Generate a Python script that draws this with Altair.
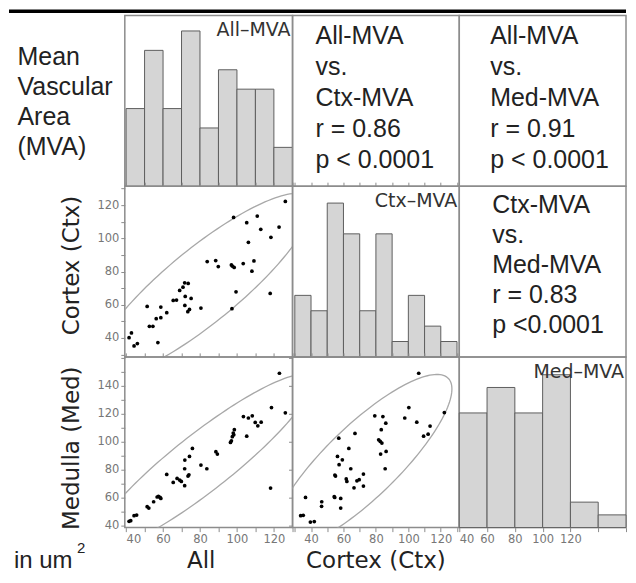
import altair as alt
import numpy as np
import pandas as pd

# ---------------- data ----------------
# histogram bin edges and counts
all_edges = [40, 50, 60, 70, 80, 90, 100, 110, 120, 130]
all_counts = [4, 7, 4, 8, 3, 6, 5, 5, 2]
ctx_edges = [30, 40, 50, 60, 70, 80, 90, 100, 110, 120, 130]
ctx_counts = [4, 3, 10, 8, 3, 8, 1, 4, 2, 1]
med_edges = [40, 60, 80, 100, 120, 140, 160]
med_counts = [9, 11, 9, 12, 2, 1]

# scatter: All (x) vs Cortex (y)
ac_all = [126.2, 98.2, 111.0, 105.3, 112.9, 122.8, 118.4, 106.2, 83.9, 88.5, 89.9, 97.0, 98.5,
          97.5, 103.4, 109.2, 108.1, 99.5, 118.0, 97.3, 80.5, 71.7, 73.6, 70.8, 69.0, 65.5,
          67.3, 72.0, 75.2, 71.8, 74.3, 73.4, 51.4, 58.8, 62.0, 56.3, 58.8, 52.6, 54.5, 42.9,
          41.6, 44.3, 46.1, 57.2]
ac_ctx = [122.2, 112.6, 113.4, 109.4, 105.4, 106.8, 100.6, 97.6, 86.0, 86.6, 83.0, 84.0, 82.5,
          83.3, 84.8, 86.4, 80.2, 67.8, 66.8, 57.6, 58.0, 73.2, 72.8, 70.6, 68.6, 62.6,
          62.8, 65.0, 63.8, 59.6, 57.2, 55.8, 59.0, 58.6, 55.2, 51.6, 52.2, 47.0, 47.0, 43.0,
          40.2, 35.2, 36.6, 37.2]

# scatter: All (x) vs Medulla (y)
am_all = [123.0, 118.7, 126.2, 103.5, 106.2, 108.3, 109.9, 111.3, 113.1, 105.3, 98.6, 98.0,
          97.5, 97.0, 96.5, 98.3, 88.6, 89.4, 75.9, 74.3, 71.8, 80.5, 83.7, 71.7, 74.0, 73.5,
          62.0, 67.6, 69.0, 69.9, 65.5, 71.7, 57.5, 58.4, 58.8, 56.8, 54.9, 51.4, 52.3, 44.3,
          45.7, 41.6, 42.5, 118.2]
am_med = [149.0, 124.5, 120.7, 118.0, 117.0, 118.6, 113.8, 111.4, 114.0, 104.0, 108.6, 106.2,
          103.6, 100.7, 99.5, 105.0, 92.9, 91.2, 95.2, 89.5, 86.9, 83.3, 80.7, 80.7, 76.4, 75.5,
          76.6, 73.8, 72.6, 71.6, 70.9, 68.6, 61.0, 60.2, 59.5, 60.5, 57.1, 53.6, 52.6, 47.1,
          47.6, 43.1, 43.6, 66.9]

# scatter: Cortex (x) vs Medulla (y)
cm_ctx = [106.4, 100.3, 122.2, 97.8, 105.2, 113.4, 109.4, 112.2, 79.3, 84.3, 86.1, 83.3, 81.7,
          82.7, 83.7, 82.9, 86.3, 85.7, 67.1, 57.1, 63.3, 56.3, 59.3, 57.3, 64.5, 54.7, 55.1,
          72.3, 61.7, 62.1, 68.3, 69.7, 66.5, 72.3, 54.3, 54.6, 58.3, 36.6, 46.6, 46.5, 58.3,
          33.6, 35.2, 39.6, 42.0]
cm_med = [149.0, 124.5, 120.9, 117.0, 114.0, 111.2, 104.0, 105.4, 118.6, 118.0, 113.3, 108.6,
          101.4, 100.2, 99.1, 91.2, 93.1, 80.7, 106.0, 102.6, 95.2, 89.5, 87.1, 83.6, 80.7, 76.2,
          75.5, 76.9, 73.4, 71.6, 72.1, 72.9, 67.1, 68.3, 60.7, 60.2, 59.5, 60.2, 57.1, 53.8,
          52.6, 47.1, 47.4, 42.6, 42.9]

# tick values
all_ticks = [40, 50, 60, 70, 80, 90, 100, 110, 120, 130]
ctx_ticks = [30, 40, 50, 60, 70, 80, 90, 100, 110, 120, 130]
med_ticks_y = [40, 50, 60, 70, 80, 90, 100, 110, 120, 130, 140, 150, 160]
med_ticks_x = [40, 60, 80, 100, 120, 140, 160]

# texts
row_label_lines = ["Mean", "Vascular", "Area", "(MVA)"]
stat_all_ctx = ["All-MVA", "vs.", "Ctx-MVA", "r = 0.86", "p < 0.0001"]
stat_all_med = ["All-MVA", "vs.", "Med-MVA", "r = 0.91", "p < 0.0001"]
stat_ctx_med = ["Ctx-MVA", "vs.", "Med-MVA", "r = 0.83", "p <0.0001"]
hist_labels = ["All\u2013MVA", "Ctx\u2013MVA", "Med\u2013MVA"]

# ---------------- styling / layout constants ----------------
ALL_DOM = [39.3, 130.1]
CTX_DOM = [28.6, 131.4]
MED_DOM_Y = [38.6, 160.7]
MED_DOM_X = [40, 160]
W = [168, 167, 167]
H = 171
GRAY = "#8c8c8c"
TXT = "#222222"
TICKS = dict(tickColor=GRAY, tickSize=4, tickWidth=1, domain=False, grid=False)
LABELS = dict(labelColor="#777777", labelFont="DejaVu Sans", labelFontSize=11.5,
              labelPadding=2, labelOverlap=False)


def lab_expr(lo, hi):
    return f"(datum.value % 20 == 0 && datum.value >= {lo} && datum.value <= {hi}) ? datum.label : ''"


def ticks_only(orient, values):
    return alt.Axis(orient=orient, values=values, labels=False, title=None, **TICKS)


def y_axis_titled(values, lo, hi, title, ty):
    return alt.Axis(orient="left", values=values, labelExpr=lab_expr(lo, hi), labelFlush=False,
                    title=title, titleFont="DejaVu Sans", titleFontSize=23,
                    titleFontWeight="normal", titleColor=TXT, titleAngle=270,
                    titleBaseline="middle", titleAlign="center", titleX=-53, titleY=ty,
                    **TICKS, **LABELS)


def x_axis_titled(values, lo, hi, title, tx):
    return alt.Axis(orient="bottom", values=values, labelExpr=lab_expr(lo, hi), labelFlush=4,
                    title=title, titleFont="DejaVu Sans", titleFontSize=23,
                    titleFontWeight="normal", titleColor=TXT, titleAngle=0,
                    titleBaseline="alphabetic", titleAlign="center", titleX=tx, titleY=40,
                    **TICKS, **LABELS)


def ellipse_df(xs, ys, n=160):
    x = np.asarray(xs, dtype=float)
    y = np.asarray(ys, dtype=float)
    cov = np.cov(x, y)
    vals, vecs = np.linalg.eigh(cov)
    r = np.sqrt(5.991)  # 95% bivariate normal density ellipse
    t = np.linspace(0, 2 * np.pi, n)
    circ = np.vstack([np.cos(t), np.sin(t)])
    pts = vecs @ (np.sqrt(vals)[:, None] * circ) * r
    return pd.DataFrame({"x": pts[0] + x.mean(), "y": pts[1] + y.mean(), "i": np.arange(n)})


def scatter_panel(xs, ys, xdom, ydom, w, x_top, x_bottom, y_axis, extra=None):
    xsc = alt.Scale(domain=xdom, nice=False, zero=False)
    ysc = alt.Scale(domain=ydom, nice=False, zero=False)
    pts = alt.Chart(pd.DataFrame({"x": xs, "y": ys})).mark_circle(
        size=14, color="black", opacity=1).encode(
        x=alt.X("x:Q", scale=xsc, axis=x_top),
        y=alt.Y("y:Q", scale=ysc, axis=y_axis))
    ell = alt.Chart(ellipse_df(xs, ys)).mark_line(
        color="#a8a8a8", strokeWidth=1.3, clip=True).encode(
        x=alt.X("x:Q", scale=xsc, axis=x_bottom if x_bottom is not None else x_top),
        y=alt.Y("y:Q", scale=ysc, axis=y_axis),
        order="i:Q")
    layers = [ell, pts] + (extra or [])
    ch = alt.layer(*layers).properties(width=w, height=H)
    if x_bottom is not None:
        ch = ch.resolve_axis(x="independent")
    return ch


def hist_panel(edges, counts, xdom, ymax, w, label, x_axis, y_axis=None, extra=None):
    df = pd.DataFrame({"s": edges[:-1], "e": edges[1:], "c": counts, "z": [0] * len(counts)})
    bars = alt.Chart(df).mark_bar(fill="#d5d5d5", stroke="#5e5e5e", strokeWidth=1).encode(
        x=alt.X("s:Q", scale=alt.Scale(domain=xdom, nice=False, zero=False), axis=x_axis),
        x2="e:Q",
        y=alt.Y("c:Q", scale=alt.Scale(domain=[0, ymax], nice=False), axis=y_axis),
        y2="z:Q")
    lab = alt.Chart(pd.DataFrame({"t": [label]})).mark_text(
        align="right", baseline="alphabetic", font="DejaVu Sans", fontSize=19,
        color="#333333").encode(x=alt.value(w - 2), y=alt.value(21), text="t:N")
    return alt.layer(bars, lab, *(extra or [])).properties(width=w, height=H)


def text_panel(lines, w, tx, ty, lh):
    return alt.Chart(pd.DataFrame({"t": ["\n".join(lines)]})).mark_text(
        align="left", baseline="alphabetic", lineBreak="\n", lineHeight=lh,
        font="Liberation Sans", fontSize=25, color=TXT).encode(
        x=alt.value(tx), y=alt.value(ty), text="t:N").properties(width=w, height=H)


# ---------------- panels ----------------
# thick black rule across the top (a filled rect, so its bounds stay exact)
top_rule = alt.Chart(pd.DataFrame({"a": [0]})).mark_rect(color="black").encode(
    x=alt.value(-116), x2=alt.value(sum(W)), y=alt.value(-6), y2=alt.value(-2.5))

row1_axis = alt.Axis(labels=False, ticks=False, domain=False, grid=False,
                     title=row_label_lines, titleAngle=0, titleAlign="left",
                     titleBaseline="alphabetic", titleX=-108, titleY=49,
                     titleFont="Liberation Sans", titleFontSize=25, titleFontWeight="normal",
                     titleColor=TXT, titleLineHeight=30)

r1c1 = hist_panel(all_edges, all_counts, ALL_DOM, 8.8, W[0], hist_labels[0], None,
                  y_axis=row1_axis, extra=[top_rule])
r1c2 = text_panel(stat_all_ctx, W[1], 23, 29, 31)
r1c3 = text_panel(stat_all_med, W[2], 31, 29, 31)

r2c1 = scatter_panel(ac_all, ac_ctx, ALL_DOM, CTX_DOM, W[0],
                     ticks_only("top", all_ticks), None,
                     y_axis_titled(ctx_ticks, 40, 120, "Cortex (Ctx)", 79))
r2c2 = hist_panel(ctx_edges, ctx_counts, CTX_DOM, 11.1, W[1], hist_labels[1],
                  ticks_only("top", ctx_ticks))
r2c3 = text_panel(stat_ctx_med, W[2], 33, 27, 30)

unit_txt = alt.Chart(pd.DataFrame({"t": ["in um"]})).mark_text(
    align="left", baseline="alphabetic", font="Liberation Sans", fontSize=24, color=TXT).encode(
    x=alt.value(-111), y=alt.value(211), text="t:N")
unit_sup = alt.Chart(pd.DataFrame({"t": ["2"]})).mark_text(
    align="left", baseline="alphabetic", font="Liberation Sans", fontSize=15, color=TXT).encode(
    x=alt.value(-48), y=alt.value(196), text="t:N")

r3c1 = scatter_panel(am_all, am_med, ALL_DOM, MED_DOM_Y, W[0],
                     ticks_only("top", all_ticks),
                     x_axis_titled(all_ticks, 40, 120, "All", 76),
                     y_axis_titled(med_ticks_y, 40, 140, "Medulla (Med)", 91),
                     extra=[unit_txt, unit_sup])
r3c2 = scatter_panel(cm_ctx, cm_med, CTX_DOM, MED_DOM_Y, W[1],
                     ticks_only("top", ctx_ticks),
                     x_axis_titled(ctx_ticks, 40, 120, "Cortex (Ctx)", 83),
                     ticks_only("left", [40, 60, 80, 100, 120, 140, 160]))
r3c3 = hist_panel(med_edges, med_counts, MED_DOM_X, 13.4, W[2], hist_labels[2],
                  alt.Axis(orient="bottom", values=med_ticks_x, labelExpr=lab_expr(40, 120),
                           labelFlush=4, title=None, **TICKS, **LABELS))

chart = alt.concat(
    r1c1, r1c2, r1c3,
    r2c1, r2c2, r2c3,
    r3c1, r3c2, r3c3,
    columns=3, spacing=0, bounds="flush", align="each",
).resolve_scale(x="independent", y="independent").configure_view(
    stroke=GRAY, strokeWidth=1.5
).configure_axis(grid=False).properties(padding=0, background="white")

chart.save("out.html", embed_options={"renderer": "svg", "actions": False})
